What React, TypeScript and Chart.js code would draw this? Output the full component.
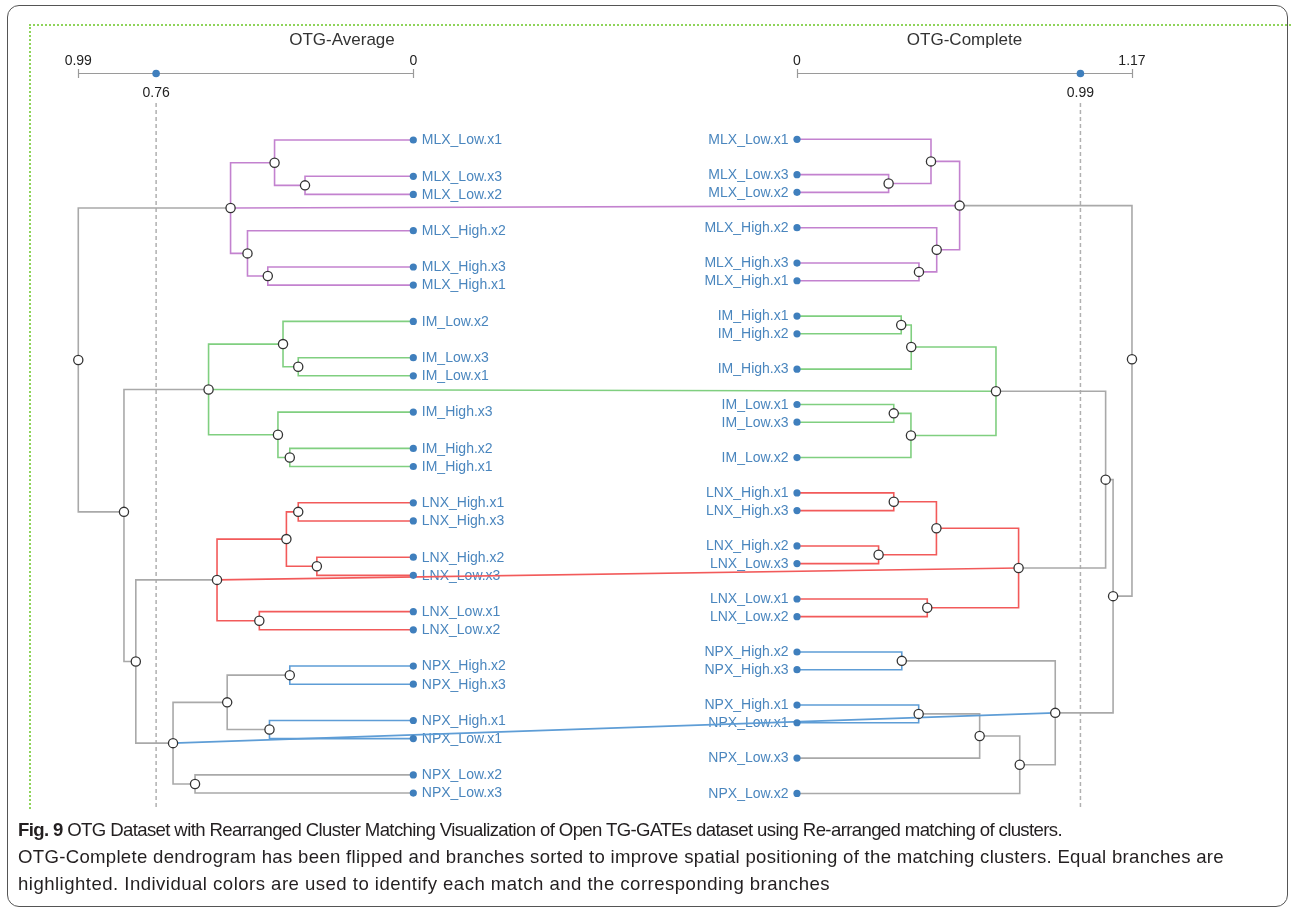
import React, { useEffect, useRef } from "react";
import { Chart, registerables } from "chart.js";
Chart.register(...registerables);

const W = 1292;
const H = 913;

// ---------------- data ----------------
const leftLeaves = ["MLX_Low.x1", "MLX_Low.x3", "MLX_Low.x2", "MLX_High.x2", "MLX_High.x3", "MLX_High.x1", "IM_Low.x2", "IM_Low.x3", "IM_Low.x1", "IM_High.x3", "IM_High.x2", "IM_High.x1", "LNX_High.x1", "LNX_High.x3", "LNX_High.x2", "LNX_Low.x3", "LNX_Low.x1", "LNX_Low.x2", "NPX_High.x2", "NPX_High.x3", "NPX_High.x1", "NPX_Low.x1", "NPX_Low.x2", "NPX_Low.x3"];
const leftLeafRows = [0, 2, 3, 5, 7, 8, 10, 12, 13, 15, 17, 18, 20, 21, 23, 24, 26, 27, 29, 30, 32, 33, 35, 36];

const rightLeaves = ["MLX_Low.x1", "MLX_Low.x3", "MLX_Low.x2", "MLX_High.x2", "MLX_High.x3", "MLX_High.x1", "IM_High.x1", "IM_High.x2", "IM_High.x3", "IM_Low.x1", "IM_Low.x3", "IM_Low.x2", "LNX_High.x1", "LNX_High.x3", "LNX_High.x2", "LNX_Low.x3", "LNX_Low.x1", "LNX_Low.x2", "NPX_High.x2", "NPX_High.x3", "NPX_High.x1", "NPX_Low.x1", "NPX_Low.x3", "NPX_Low.x2"];
const rightLeafRows = [0, 2, 3, 5, 7, 8, 10, 11, 13, 15, 16, 18, 20, 21, 23, 24, 26, 27, 29, 30, 32, 33, 35, 37];

// OTG-Average (left) internal nodes
const leftNodeIds = ["a1", "a2", "a3", "a4", "a5", "b1", "b2", "b3", "b4", "b5", "c1", "c2", "c3", "c4", "c5", "d1", "d2", "d3", "d4", "d5", "g3", "g2", "root"];
const leftNodeKids = [
  ["MLX_Low.x3", "MLX_Low.x2"], ["MLX_Low.x1", "a1"], ["MLX_High.x3", "MLX_High.x1"], ["MLX_High.x2", "a3"], ["a2", "a4"],
  ["IM_Low.x3", "IM_Low.x1"], ["IM_Low.x2", "b1"], ["IM_High.x2", "IM_High.x1"], ["IM_High.x3", "b3"], ["b2", "b4"],
  ["LNX_High.x1", "LNX_High.x3"], ["LNX_High.x2", "LNX_Low.x3"], ["c1", "c2"], ["LNX_Low.x1", "LNX_Low.x2"], ["c3", "c4"],
  ["NPX_High.x2", "NPX_High.x3"], ["NPX_High.x1", "NPX_Low.x1"], ["d1", "d2"], ["NPX_Low.x2", "NPX_Low.x3"], ["d3", "d4"],
  ["c5", "d5"], ["b5", "g3"], ["a5", "g2"],
];
const leftNodeHeights = [0.32, 0.41, 0.43, 0.49, 0.54, 0.34, 0.385, 0.365, 0.40, 0.605, 0.34, 0.285, 0.375, 0.455, 0.58, 0.365, 0.425, 0.55, 0.645, 0.71, 0.82, 0.855, 0.99];
const leftNodeRows = [2.5, 1.25, 7.5, 6.25, 3.75, 12.5, 11.25, 17.5, 16.25, 13.75, 20.5, 23.5, 22, 26.5, 24.25, 29.5, 32.5, 31, 35.5, 33.25, 28.75, 20.5, 12.125];
const leftNodeGroups = ["mlx", "mlx", "mlx", "mlx", "mlx", "im", "im", "im", "im", "im", "lnx", "lnx", "lnx", "lnx", "lnx", "npx", "npx", "none", "none", "none", "none", "none", "none"];

// OTG-Complete (right) internal nodes
const rightNodeIds = ["p1", "p2", "p3", "p4", "p5", "q1", "q2", "q3", "q4", "q5", "r1", "r2", "r3", "r4", "r5", "s1", "s2", "s3", "s4", "s5", "t2", "t3", "root"];
const rightNodeKids = [
  ["MLX_Low.x3", "MLX_Low.x2"], ["MLX_Low.x1", "p1"], ["MLX_High.x3", "MLX_High.x1"], ["MLX_High.x2", "p3"], ["p2", "p4"],
  ["IM_High.x1", "IM_High.x2"], ["q1", "IM_High.x3"], ["IM_Low.x1", "IM_Low.x3"], ["q3", "IM_Low.x2"], ["q2", "q4"],
  ["LNX_High.x1", "LNX_High.x3"], ["LNX_High.x2", "LNX_Low.x3"], ["r1", "r2"], ["LNX_Low.x1", "LNX_Low.x2"], ["r3", "r4"],
  ["NPX_High.x2", "NPX_High.x3"], ["NPX_High.x1", "NPX_Low.x1"], ["s2", "NPX_Low.x3"], ["s3", "NPX_Low.x2"], ["s1", "s4"],
  ["q5", "r5"], ["t2", "s5"], ["p5", "t3"],
];
const rightNodeHeights = [0.32, 0.468, 0.426, 0.488, 0.568, 0.364, 0.399, 0.338, 0.398, 0.695, 0.338, 0.285, 0.487, 0.455, 0.774, 0.366, 0.425, 0.638, 0.778, 0.902, 1.078, 1.104, 1.17];
const rightNodeRows = [2.5, 1.25, 7.5, 6.25, 3.75, 10.5, 11.75, 15.5, 16.75, 14.25, 20.5, 23.5, 22, 26.5, 24.25, 29.5, 32.5, 33.75, 35.375, 32.44, 19.25, 25.84, 12.44];
const rightNodeGroups = ["mlx", "mlx", "mlx", "mlx", "mlx", "im", "im", "im", "im", "im", "lnx", "lnx", "lnx", "lnx", "lnx", "npx", "npx", "none", "none", "none", "none", "none", "none"];

// matched clusters
const matchLeft = ["a5", "b5", "c5", "d5"];
const matchRight = ["p5", "q5", "r5", "s5"];
const matchGroups = ["mlx", "im", "lnx", "npx"];

// height rulers
const leftTitle = "OTG-Average";
const rightTitle = "OTG-Complete";
const leftRulerTicks = [0.99, 0];
const rightRulerTicks = [0, 1.17];
const leftCut = 0.76;
const rightCut = 0.99;

// caption
const captionBold = "Fig. 9";
const captionLines = [
  " OTG Dataset with Rearranged Cluster Matching Visualization of Open TG-GATEs dataset using Re-arranged matching of clusters.",
  "OTG-Complete dendrogram has been flipped and branches sorted to improve spatial positioning of the matching clusters. Equal branches are",
  "highlighted. Individual colors are used to identify each match and the corresponding branches",
];
const captionLineWidths = [1044, 1206, 812];

// ---------------- style / layout ----------------
const GROUP_COLORS: Record<string, string> = {
  mlx: "#c382cf",
  im: "#80cf80",
  lnx: "#f25a5a",
  npx: "#5e9dd6",
  none: "#a9a9a9",
};
const LABEL_COLOR = "#4a86be";
const LEAF_DOT = "#3f7fbd";

const LEFT_ZERO_PX = 413.3;
const LEFT_PX_PER_UNIT = 338.4;
const RIGHT_ZERO_PX = 797;
const RIGHT_PX_PER_UNIT = 286.3;
const LEFT_ROW0_PX = 140;
const LEFT_PX_PER_ROW = 18.14;
const RIGHT_ROW0_PX = 139.3;
const RIGHT_PX_PER_ROW = 17.68;

const RULER_Y = 73.5;
const TITLE_Y = 40;
const LEFT_TITLE_X = 342;
const CUT_TOP_PX = 103;
const CUT_BOTTOM_PX = 808;

const rowL = (px: number) => (px - LEFT_ROW0_PX) / LEFT_PX_PER_ROW;
const rowR = (px: number) => (px - RIGHT_ROW0_PX) / RIGHT_PX_PER_ROW;
// convert right-tree data coordinates into left-axis data coordinates
const rToLx = (h: number) => (LEFT_ZERO_PX - (RIGHT_ZERO_PX + h * RIGHT_PX_PER_UNIT)) / LEFT_PX_PER_UNIT;
const rToLy = (r: number) => (RIGHT_ROW0_PX + r * RIGHT_PX_PER_ROW - LEFT_ROW0_PX) / LEFT_PX_PER_ROW;

type Pos = { h: number; r: number };

function buildLookup(leaves: string[], leafRows: number[], ids: string[], heights: number[], rows: number[]) {
  const m: Record<string, Pos> = {};
  leaves.forEach((n, i) => (m[n] = { h: 0, r: leafRows[i] }));
  ids.forEach((id, i) => (m[id] = { h: heights[i], r: rows[i] }));
  return m;
}

function treeDatasets(side: "L" | "R", ids: string[], kids: string[][], heights: number[], groups: string[], look: Record<string, Pos>) {
  return ids.map((id, i) => {
    const a = look[kids[i][0]];
    const b = look[kids[i][1]];
    const h = heights[i];
    return {
      type: "scatter" as const,
      data: [
        { x: a.h, y: a.r },
        { x: h, y: a.r },
        { x: h, y: b.r },
        { x: b.h, y: b.r },
      ],
      xAxisID: "x" + side,
      yAxisID: "y" + side,
      showLine: true,
      borderColor: GROUP_COLORS[groups[i]],
      borderWidth: 1.6,
      pointRadius: 0,
      tension: 0,
      borderJoinStyle: "miter" as const,
      order: 5,
    };
  });
}

const fmt = (v: number) => String(v);

const textPlugin = {
  id: "dendroText",
  beforeDatasetsDraw(chart: any) {
    const ctx: CanvasRenderingContext2D = chart.ctx;
    const { xL, yL, xR, yR } = chart.scales;
    ctx.save();
    // leaf labels
    ctx.font = '14px "Liberation Sans", Arial, sans-serif';
    ctx.fillStyle = LABEL_COLOR;
    ctx.textBaseline = "middle";
    ctx.textAlign = "left";
    leftLeaves.forEach((n, i) => ctx.fillText(n, xL.getPixelForValue(0) + 8.5, yL.getPixelForValue(leftLeafRows[i]) + 0.5));
    ctx.textAlign = "right";
    rightLeaves.forEach((n, i) => ctx.fillText(n, xR.getPixelForValue(0) - 8.5, yR.getPixelForValue(rightLeafRows[i]) + 0.5));

    const drawRuler = (scale: any, ticks: number[], cut: number, title: string, titleX: number) => {
      const p0 = scale.getPixelForValue(ticks[0]);
      const p1 = scale.getPixelForValue(ticks[1]);
      ctx.strokeStyle = "#9a9a9a";
      ctx.lineWidth = 1.2;
      ctx.beginPath();
      ctx.moveTo(p0, RULER_Y);
      ctx.lineTo(p1, RULER_Y);
      ticks.forEach((t) => {
        const p = Math.round(scale.getPixelForValue(t)) + 0.5;
        ctx.moveTo(p, RULER_Y - 4.5);
        ctx.lineTo(p, RULER_Y + 4.5);
      });
      ctx.stroke();
      ctx.fillStyle = "#222";
      ctx.font = '14px "Liberation Sans", Arial, sans-serif';
      ctx.textAlign = "center";
      ctx.textBaseline = "middle";
      ticks.forEach((t) => ctx.fillText(fmt(t), scale.getPixelForValue(t), RULER_Y - 12));
      const pc = scale.getPixelForValue(cut);
      ctx.fillText(fmt(cut), pc, RULER_Y + 20);
      ctx.fillStyle = LEAF_DOT;
      ctx.beginPath();
      ctx.arc(pc, RULER_Y, 3.8, 0, Math.PI * 2);
      ctx.fill();
      ctx.fillStyle = "#333";
      ctx.font = '17px "Liberation Sans", Arial, sans-serif';
      ctx.fillText(title, titleX, TITLE_Y);
    };
    drawRuler(xL, leftRulerTicks, leftCut, leftTitle, LEFT_TITLE_X);
    drawRuler(xR, rightRulerTicks, rightCut, rightTitle, (xR.getPixelForValue(rightRulerTicks[0]) + xR.getPixelForValue(rightRulerTicks[1])) / 2);
    ctx.restore();
  },
};

export default function App() {
  const ref = useRef<HTMLCanvasElement>(null);
  const capRef = useRef<HTMLDivElement>(null);
  const lineRefs = useRef<(HTMLSpanElement | null)[]>([]);

  useEffect(() => {
    // fit the caption: one common horizontal scale, then per-line letter spacing
    const els = lineRefs.current;
    const widths = els.map((el) => (el ? el.getBoundingClientRect().width : 0));
    if (capRef.current && widths.every((w) => w > 0)) {
      const sumT = captionLineWidths.reduce((a, b) => a + b, 0);
      const sumW = widths.reduce((a, b) => a + b, 0);
      const s = sumT / sumW;
      capRef.current.style.transform = `scaleX(${s})`;
      els.forEach((el, i) => {
        if (!el) return;
        const len = (el.textContent || "").length;
        el.style.letterSpacing = `${(captionLineWidths[i] / s - widths[i]) / len}px`;
      });
    }

    const lookL = buildLookup(leftLeaves, leftLeafRows, leftNodeIds, leftNodeHeights, leftNodeRows);
    const lookR = buildLookup(rightLeaves, rightLeafRows, rightNodeIds, rightNodeHeights, rightNodeRows);

    const datasets: any[] = [
      ...treeDatasets("L", leftNodeIds, leftNodeKids, leftNodeHeights, leftNodeGroups, lookL),
      ...treeDatasets("R", rightNodeIds, rightNodeKids, rightNodeHeights, rightNodeGroups, lookR),
    ];

    // cut lines
    datasets.push({
      type: "scatter",
      data: [{ x: leftCut, y: rowL(CUT_TOP_PX) }, { x: leftCut, y: rowL(CUT_BOTTOM_PX) }],
      xAxisID: "xL", yAxisID: "yL", showLine: true, borderColor: "#b0b0b0", borderWidth: 1.5,
      borderDash: [4, 3], pointRadius: 0, order: 6,
    });
    datasets.push({
      type: "scatter",
      data: [{ x: rightCut, y: rowR(CUT_TOP_PX) }, { x: rightCut, y: rowR(CUT_BOTTOM_PX) }],
      xAxisID: "xR", yAxisID: "yR", showLine: true, borderColor: "#b0b0b0", borderWidth: 1.5,
      borderDash: [4, 3], pointRadius: 0, order: 6,
    });

    // matching lines
    matchLeft.forEach((id, i) => {
      const a = lookL[id];
      const b = lookR[matchRight[i]];
      datasets.push({
        type: "scatter",
        data: [{ x: a.h, y: a.r }, { x: rToLx(b.h), y: rToLy(b.r) }],
        xAxisID: "xL", yAxisID: "yL", showLine: true, borderColor: GROUP_COLORS[matchGroups[i]],
        borderWidth: 1.6, pointRadius: 0, order: 3,
      });
    });

    // leaves
    datasets.push({
      type: "scatter",
      data: leftLeafRows.map((r) => ({ x: 0, y: r })),
      xAxisID: "xL", yAxisID: "yL", pointRadius: 3.6, pointBackgroundColor: LEAF_DOT, pointBorderWidth: 0, order: 2,
    });
    datasets.push({
      type: "scatter",
      data: rightLeafRows.map((r) => ({ x: 0, y: r })),
      xAxisID: "xR", yAxisID: "yR", pointRadius: 3.6, pointBackgroundColor: LEAF_DOT, pointBorderWidth: 0, order: 2,
    });
    // internal nodes
    datasets.push({
      type: "scatter",
      data: leftNodeIds.map((_, i) => ({ x: leftNodeHeights[i], y: leftNodeRows[i] })),
      xAxisID: "xL", yAxisID: "yL", pointRadius: 4.6, pointBackgroundColor: "#ffffff",
      pointBorderColor: "#333333", pointBorderWidth: 1.3, order: 1,
    });
    datasets.push({
      type: "scatter",
      data: rightNodeIds.map((_, i) => ({ x: rightNodeHeights[i], y: rightNodeRows[i] })),
      xAxisID: "xR", yAxisID: "yR", pointRadius: 4.6, pointBackgroundColor: "#ffffff",
      pointBorderColor: "#333333", pointBorderWidth: 1.3, order: 1,
    });

    const xLmax = LEFT_ZERO_PX / LEFT_PX_PER_UNIT;
    const xRmin = -RIGHT_ZERO_PX / RIGHT_PX_PER_UNIT;
    const yLmin = -LEFT_ROW0_PX / LEFT_PX_PER_ROW;
    const yRmin = -RIGHT_ROW0_PX / RIGHT_PX_PER_ROW;

    const chart = new Chart(ref.current as HTMLCanvasElement, {
      type: "scatter",
      data: { datasets },
      options: {
        animation: false,
        responsive: false,
        devicePixelRatio: 1,
        events: [],
        layout: { padding: 0, autoPadding: false },
        plugins: { legend: { display: false }, tooltip: { enabled: false }, title: { display: false } },
        scales: {
          xL: { type: "linear", display: false, reverse: true, bounds: "data", min: xLmax - W / LEFT_PX_PER_UNIT, max: xLmax },
          xR: { type: "linear", display: false, bounds: "data", min: xRmin, max: xRmin + W / RIGHT_PX_PER_UNIT },
          yL: { type: "linear", display: false, reverse: true, bounds: "data", min: yLmin, max: yLmin + H / LEFT_PX_PER_ROW },
          yR: { type: "linear", display: false, reverse: true, bounds: "data", min: yRmin, max: yRmin + H / RIGHT_PX_PER_ROW },
        },
      } as any,
      plugins: [textPlugin],
    });
    return () => chart.destroy();
  }, []);

  const capFont = '"Liberation Sans", Arial, sans-serif';
  return (
    <div style={{ position: "fixed", left: 0, top: 0, width: W, height: H, background: "#fff", overflow: "hidden" }}>
      <canvas ref={ref} width={W} height={H} style={{ position: "absolute", left: 0, top: 0, width: W, height: H }} />
      <div style={{ position: "absolute", left: 7, top: 5, width: 1281, height: 902, border: "1.5px solid #555", borderRadius: 12, pointerEvents: "none", boxSizing: "border-box" }} />
      <div style={{ position: "absolute", left: 29, top: 24, width: 1270, height: 785, borderTop: "2px dotted #8fd45a", borderLeft: "2px dotted #8fd45a", pointerEvents: "none", boxSizing: "border-box" }} />
      <div ref={capRef} style={{ position: "absolute", left: 18, top: 816, fontFamily: capFont, fontSize: 19, lineHeight: "27px", color: "#231f20", whiteSpace: "nowrap", transformOrigin: "0 0" }}>
        <div><span ref={(el) => { lineRefs.current[0] = el; }}><b>{captionBold}</b>{captionLines[0]}</span></div>
        <div><span ref={(el) => { lineRefs.current[1] = el; }}>{captionLines[1]}</span></div>
        <div><span ref={(el) => { lineRefs.current[2] = el; }}>{captionLines[2]}</span></div>
      </div>
    </div>
  );
}
